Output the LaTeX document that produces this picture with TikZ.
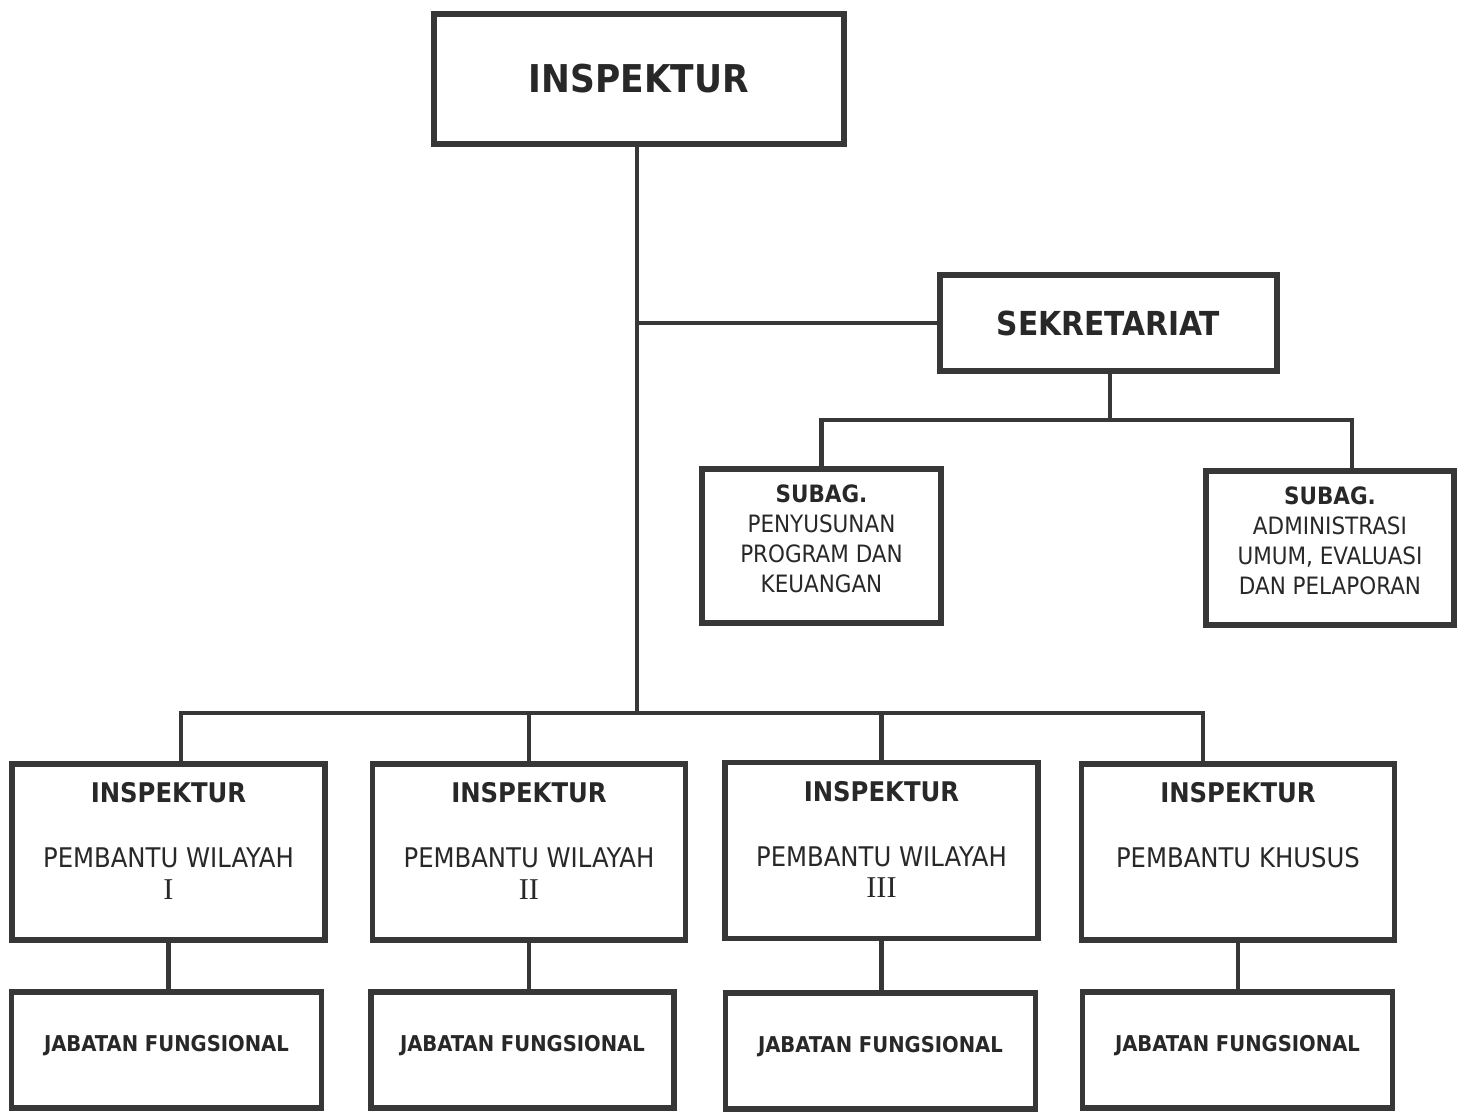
\documentclass[tikz,border=0pt]{standalone}
\usepackage{fontspec}
\setmainfont{DejaVu Sans Condensed}
\newfontfamily\numfont{Liberation Serif}
\usepackage{xcolor}
\usetikzlibrary{positioning}
\definecolor{orgline}{RGB}{55,55,55}
\definecolor{orgtext}{RGB}{40,40,40}
\tikzstyle{orgbox} = [rectangle, draw=orgline, line width=1.5pt, text=orgtext, text centered, align=center, inner sep=0pt]
\tikzstyle{chiefbox} = [orgbox, minimum width=4.1cm, minimum height=1.3cm, font=\bfseries\fontsize{10.9}{13}\selectfont]
\tikzstyle{secbox} = [orgbox, minimum width=3.37cm, minimum height=0.96cm, font=\bfseries\fontsize{9.4}{11}\selectfont]
\tikzstyle{subagbox} = [orgbox, minimum height=1.54cm, font=\fontsize{6.8}{8.5}\selectfont]
\tikzstyle{wilayahbox} = [orgbox, minimum width=3.13cm, minimum height=1.76cm, font=\fontsize{7.7}{9}\selectfont]
\tikzstyle{fungsibox} = [orgbox, minimum width=3.1cm, minimum height=1.16cm, font=\bfseries\fontsize{6.2}{7.5}\selectfont]
\tikzstyle{line} = [draw=orgline, line width=1.4pt]
\newcommand{\lowgap}[1]{\rule[-#1]{0pt}{0pt}}
\newcommand{\wilnum}[1]{{\numfont\fontsize{8.6}{9}\selectfont #1}}

\begin{document}
\begin{tikzpicture}
        \useasboundingbox (0,0) rectangle (14.65,-11.13);

        % Head and secretariat
        \node[chiefbox] (inspektur) at (6.39,-0.79) {INSPEKTUR};
        \node[secbox] (sekretariat) at (11.085,-3.23) {SEKRETARIAT};
        \node[subagbox, minimum width=2.39cm] (subagprog) at (8.215,-5.46) {\textbf{SUBAG.}\\PENYUSUNAN\\PROGRAM DAN\\KEUANGAN\lowgap{0.15cm}};
        \node[subagbox, minimum width=2.48cm] (subagadm) at (13.30,-5.48) {\textbf{SUBAG.}\\ADMINISTRASI\\UMUM, EVALUASI\\DAN PELAPORAN\lowgap{0.15cm}};

        % Inspektur pembantu
        \node[wilayahbox] (wilsatu) at (1.685,-8.52) {\textbf{INSPEKTUR}\\[9.5pt]PEMBANTU WILAYAH\\\wilnum{I}\lowgap{0.22cm}};
        \node[wilayahbox] (wildua) at (5.29,-8.52) {\textbf{INSPEKTUR}\\[9.5pt]PEMBANTU WILAYAH\\\wilnum{II}\lowgap{0.22cm}};
        \node[wilayahbox] (wiltiga) at (8.815,-8.505) {\textbf{INSPEKTUR}\\[9.5pt]PEMBANTU WILAYAH\\\wilnum{III}\lowgap{0.22cm}};
        \node[wilayahbox] (khusus) at (12.38,-8.52) {\textbf{INSPEKTUR}\\[9.5pt]PEMBANTU KHUSUS\\\mbox{}\lowgap{0.22cm}};

        % Jabatan fungsional
        \node[fungsibox] (fungsisatu) at (1.665,-10.50) {JABATAN FUNGSIONAL\lowgap{0.14cm}};
        \node[fungsibox, minimum width=3.03cm] (fungsidua) at (5.225,-10.50) {JABATAN FUNGSIONAL\lowgap{0.14cm}};
        \node[fungsibox] (fungsitiga) at (8.805,-10.51) {JABATAN FUNGSIONAL\lowgap{0.14cm}};
        \node[fungsibox] (fungsiempat) at (12.375,-10.50) {JABATAN FUNGSIONAL\lowgap{0.14cm}};

        % Bus points
        \coordinate (mainbus) at (6.37,-7.13);
        \coordinate (busleft) at (1.81,-7.13);
        \coordinate (busright) at (12.03,-7.13);
        \coordinate (subbus) at (11.10,-4.20);
        \coordinate (subbusright) at (13.52,-4.20);

        % Connections
        \draw[line] (inspektur.south -| mainbus) -- (mainbus);
        \draw[line] (sekretariat.west -| mainbus) -- (sekretariat.west);
        \draw[line] (sekretariat.south -| subbus) -- (subbus);
        \draw[line] (subagprog.north) |- (subbusright) -- (subbusright |- subagadm.north);
        \draw[line] (busleft |- wilsatu.north) -- (busleft) -- (busright) -- (busright |- khusus.north);
        \draw[line] (wildua.north) -- (wildua.north |- mainbus);
        \draw[line] (wiltiga.north) -- (wiltiga.north |- mainbus);
        \draw[line] (wilsatu.south) -- (wilsatu.south |- fungsisatu.north);
        \draw[line] (wildua.south) -- (wildua.south |- fungsidua.north);
        \draw[line] (wiltiga.south) -- (wiltiga.south |- fungsitiga.north);
        \draw[line] (khusus.south) -- (khusus.south |- fungsiempat.north);
    \end{tikzpicture}
\end{document}
